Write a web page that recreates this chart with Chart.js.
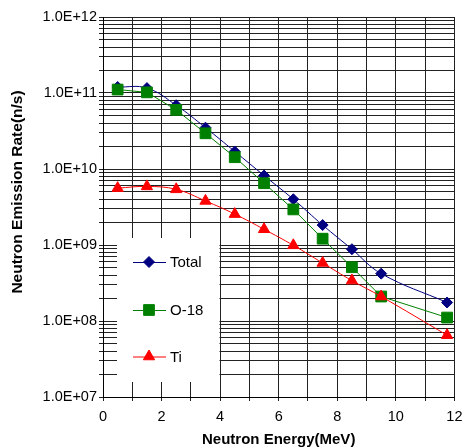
<!DOCTYPE html>
<html>
<head>
<meta charset="utf-8">
<script src="https://cdn.jsdelivr.net/npm/chart.js@4.4.1/dist/chart.umd.min.js"></script>
<style>
  body { margin: 0; background: #fff; }
  #wrap { width: 463px; height: 447px; }
</style>
</head>
<body>
<div id="wrap"><canvas id="myChart"></canvas></div>
<script>
// values
var energy = [0.5, 1.5, 2.5, 3.5, 4.5, 5.5, 6.5, 7.5, 8.5, 9.5, 11.75];
var total = [1.2e11, 1.16e11, 6.9e10, 3.5e10, 1.7e10, 8.2e9, 4.0e9, 1.83e9, 8.8e8, 4.2e8, 1.75e8];
var o18 = [1.11e11, 1.02e11, 6.0e10, 2.95e10, 1.43e10, 6.5e9, 2.94e9, 1.21e9, 5.1e8, 2.1e8, 1.11e8];
var ti = [5.6e9, 5.9e9, 5.4e9, 3.8e9, 2.55e9, 1.61e9, 9.9e8, 5.8e8, 3.4e8, 2.1e8, 6.5e7];
var decades = [7, 8, 9, 10, 11, 12];

Chart.defaults.font.family = 'Arial, "Liberation Sans", sans-serif';
Chart.defaults.color = '#000';

function points(values) {
  return values.map((v, i) => ({x: energy[i], y: v}));
}

function expLabel(value) {
  var e = Math.log10(value);
  var r = Math.round(e);
  if (Math.abs(e - r) > 1e-9) return '';
  return '1.0E+' + (r < 10 ? '0' : '') + r;
}

var gridColor = '#222';

// legend box drawn inside the plot, lower left
var insideLegend = {
  id: 'insideLegend',
  afterDatasetsDraw(chart) {
    var ctx = chart.ctx;
    var area = chart.chartArea;
    var x0 = area.left + 14, y0 = area.bottom - 159;
    ctx.save();
    ctx.fillStyle = '#fff';
    ctx.fillRect(x0, y0, 102.5, 144);
    var sets = chart.data.datasets;
    var rows = [24, 72, 118.5];
    ctx.font = '15px Arial, "Liberation Sans", sans-serif';
    ctx.textBaseline = 'middle';
    sets.forEach((ds, i) => {
      var y = y0 + rows[i];
      ctx.strokeStyle = ds.borderColor;
      ctx.lineWidth = 1;
      ctx.beginPath();
      ctx.moveTo(x0 + 16, y + 0.5);
      ctx.lineTo(x0 + 49, y + 0.5);
      ctx.stroke();
      ctx.fillStyle = ds.pointBackgroundColor;
      ctx.strokeStyle = ds.pointBorderColor;
      Chart.helpers.drawPoint(ctx, {
        pointStyle: ds.pointStyle,
        radius: ds.pointRadius,
        rotation: 0,
        borderWidth: 1
      }, x0 + 32, y);
      ctx.fillStyle = '#000';
      ctx.fillText(ds.label, x0 + 53, y + 1);
    });
    ctx.restore();
  }
};

// vertical axis title, sits a little above the middle as in the original
var yTitle = {
  id: 'yTitle',
  afterDraw(chart) {
    var ctx = chart.ctx;
    var area = chart.chartArea;
    ctx.save();
    ctx.translate(18, (area.top + area.bottom) / 2 - 15);
    ctx.rotate(-Math.PI / 2);
    ctx.font = 'bold 15.5px Arial, "Liberation Sans", sans-serif';
    ctx.fillStyle = '#000';
    ctx.textAlign = 'center';
    ctx.textBaseline = 'middle';
    ctx.fillText('Neutron Emission Rate(n/s)', 0, 0);
    ctx.restore();
  }
};

var ctx = document.getElementById('myChart').getContext('2d');

var myChart = new Chart(ctx, {
  type: 'line',
  data: {
    datasets: [{
      label: 'Total',
      data: points(total),
      borderColor: '#000080',
      backgroundColor: '#000080',
      pointBackgroundColor: '#000080',
      pointBorderColor: '#000080',
      pointStyle: 'rectRot',
      pointRadius: 5.5,
      borderWidth: 1,
      tension: 0.4,
      order: 3
    }, {
      label: 'O-18',
      data: points(o18),
      borderColor: '#008000',
      backgroundColor: '#008000',
      pointBackgroundColor: '#008000',
      pointBorderColor: '#008000',
      pointStyle: 'rect',
      pointRadius: 7.6,
      borderWidth: 1,
      tension: 0,
      order: 2
    }, {
      label: 'Ti',
      data: points(ti),
      borderColor: '#ff0000',
      backgroundColor: '#ff0000',
      pointBackgroundColor: '#ff0000',
      pointBorderColor: '#ff0000',
      pointStyle: 'triangle',
      pointRadius: 6.5,
      borderWidth: 1,
      tension: 0.4,
      order: 1
    }]
  },
  options: {
    responsive: true,
    maintainAspectRatio: false,
    animation: false,
    layout: { padding: { top: 17, right: 8, left: 0, bottom: 0 } },
    plugins: {
      legend: { display: false },
      tooltip: { enabled: false }
    },
    scales: {
      x: {
        type: 'linear',
        min: 0,
        max: 12,
        afterFit(scale) {
          scale.height = 50;
          scale.paddingLeft = 0;
          scale.paddingRight = 0;
        },
        ticks: {
          stepSize: 1,
          autoSkip: false,
          maxRotation: 0,
          padding: 7,
          font: { size: 14.5 },
          callback: v => (v % 2 === 0 ? String(v) : '')
        },
        grid: { color: gridColor, tickLength: 4, lineWidth: 1 },
        border: { color: '#000' },
        title: {
          display: true,
          text: 'Neutron Energy(MeV)',
          font: { size: 15, weight: 'bold', lineHeight: 1 },
          padding: { top: 0, bottom: 0 }
        }
      },
      y: {
        type: 'logarithmic',
        min: Math.pow(10, decades[0]),
        max: Math.pow(10, decades[decades.length - 1]),
        afterFit(scale) { scale.width = 103; },
        afterBuildTicks(scale) {
          var t = [];
          decades.forEach((e, k) => {
            if (k === decades.length - 1) {
              t.push({value: Math.pow(10, e)});
              return;
            }
            for (var m = 1; m <= 9; m++) t.push({value: m * Math.pow(10, e)});
          });
          scale.ticks = t;
        },
        ticks: {
          autoSkip: false,
          padding: 2,
          font: { size: 14.5 },
          callback: v => expLabel(v)
        },
        grid: { color: gridColor, tickLength: 4, lineWidth: 1 },
        border: { color: '#000' }
      }
    }
  },
  plugins: [insideLegend, yTitle]
});
</script>
</body>
</html>
